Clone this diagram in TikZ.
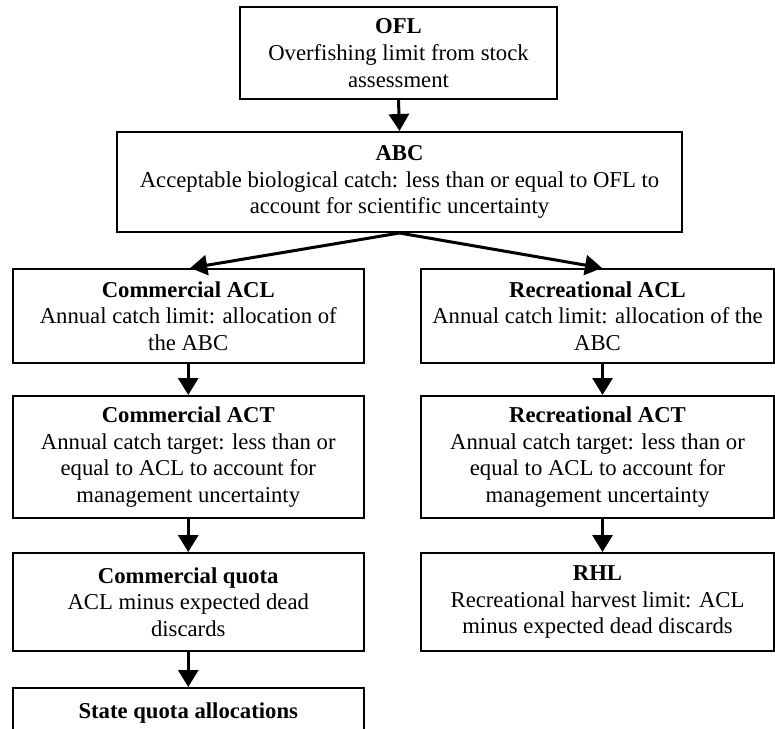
\documentclass[tikz,border=0pt]{standalone}
\usepackage{fontspec}
\setmainfont{Liberation Serif}
\usetikzlibrary{arrows.meta}
\begin{document}
\begin{tikzpicture}[x=1pt,y=-1pt,
  box/.style={draw, line width=2pt, inner sep=0pt, align=center,
    font=\fontsize{22.7}{26.7}\selectfont},
  arr/.style={line width=3pt, -{Triangle[length=17pt,width=20pt]}}]
\clip (0,0) rectangle (775,728);
\node[box, minimum width=317pt, minimum height=92pt] (ofl) at (398.5,53)
  {\textbf{OFL}\\Overfishing limit from stock\\assessment};
\node[box, minimum width=565pt, minimum height=100pt] (abc) at (399.5,182)
  {\textbf{ABC}\\Acceptable biological catch: less than or equal to OFL to\\account for scientific uncertainty};
\node[box, minimum width=351.5pt, minimum height=94pt] (cacl) at (188.25,316)
  {\textbf{Commercial ACL}\\Annual catch limit: allocation of\\the ABC};
\node[box, minimum width=353pt, minimum height=94pt] (racl) at (597.5,316)
  {\textbf{Recreational ACL}\\Annual catch limit: allocation of the\\ABC};
\node[box, minimum width=351.5pt, minimum height=122pt] (cact) at (188.25,457)
  {\textbf{Commercial ACT}\\Annual catch target: less than or\\equal to ACL to account for\\management uncertainty};
\node[box, minimum width=353pt, minimum height=122pt] (ract) at (597.5,457)
  {\textbf{Recreational ACT}\\Annual catch target: less than or\\equal to ACL to account for\\management uncertainty};
\node[box, minimum width=351.5pt, minimum height=98pt] (cq) at (188.25,602)
  {\textbf{Commercial quota}\\ACL minus expected dead\\discards};
\node[box, minimum width=353pt, minimum height=98pt] (rhl) at (597.5,602)
  {\textbf{RHL}\\Recreational harvest limit: ACL\\minus expected dead discards};
\node[box, minimum width=351.5pt, text height=30pt, text depth=64pt, anchor=north] (sq) at (188.25,687)
  {\textbf{State quota allocations}};
\draw[arr] (ofl.south) -- (abc.north);
\draw[arr] (abc.south) -- ([xshift=2pt]cacl.north);
\draw[arr] (abc.south) -- ([xshift=4.5pt]racl.north);
\draw[arr] (cacl.south) -- (cact.north);
\draw[arr] ([xshift=5pt]racl.south) -- ([xshift=5pt]ract.north);
\draw[arr] (cact.south) -- (cq.north);
\draw[arr] ([xshift=5pt]ract.south) -- ([xshift=5pt]rhl.north);
\draw[arr] (cq.south) -- (sq.north);
\end{tikzpicture}
\end{document}
